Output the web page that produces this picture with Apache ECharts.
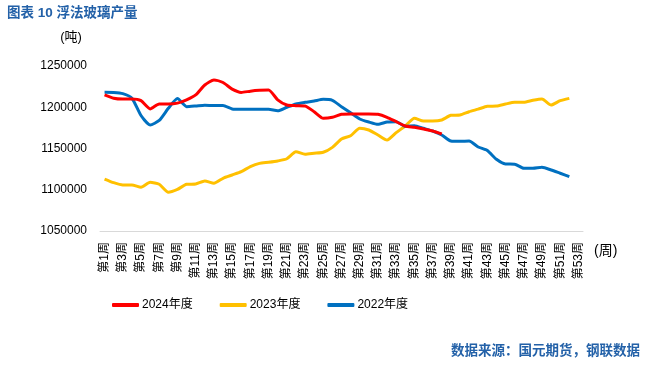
<!DOCTYPE html>
<html>
<head>
<meta charset="utf-8">
<script src="https://cdn.jsdelivr.net/npm/echarts@6/dist/echarts.min.js"></script>
<style>html,body{margin:0;padding:0;background:#fff}#c{width:652px;height:365px}</style>
</head>
<body>
<div id="c"></div>
<script>
var categories = [];
for (var i = 1; i <= 53; i++) categories.push('第' + i + '周');

var yTickMin = 1050000, yTickMax = 1250000, yTickStep = 50000;

var s2024 = [1215000,1211000,1210000,1210000,1208000,1198000,1204000,1204000,1205000,1209000,
             1215000,1227000,1233000,1230000,1222000,1218000,1219500,1220500,1221000,1209000,
             1202700,1201900,1201500,1194600,1186600,1187800,1191400,1191800,1191800,1191800,
             1191400,1187800,1182500,1177300,1175700,1173600,1171200,1167600];

var s2023 = [1113000,1108600,1105800,1105800,1103000,1109000,1106600,1096900,1100400,1106600,
             1107000,1110600,1107800,1113900,1117900,1121900,1128000,1132000,1133300,1134900,
             1137600,1146100,1143000,1144200,1145400,1151400,1161500,1165500,1174500,1172400,
             1166400,1160300,1169200,1177300,1186600,1183300,1183300,1184600,1190200,1190600,
             1194600,1197700,1201100,1201500,1203900,1206000,1206000,1208400,1210000,1202700,
             1208000,1210800];

var s2022 = [1218100,1217900,1216500,1211000,1190000,1178500,1184000,1198700,1210500,1200700,
             1201500,1202500,1202000,1202000,1197900,1197500,1197500,1197500,1197500,1195800,
             1200000,1204000,1206000,1207600,1209600,1208400,1200700,1193400,1185800,1182100,
             1179300,1182100,1182500,1176900,1177700,1174500,1171200,1166400,1159100,1158700,
             1159000,1151800,1147600,1136900,1131200,1131000,1126000,1126000,1127200,1124000,
             1120000,1116000];

var seriesNames = ['2024年度', '2023年度', '2022年度'];
var colors = ['#FF0000', '#FFC000', '#0070C0'];

var FONT = "'Liberation Sans', 'Noto Sans CJK SC', sans-serif";
var chart = echarts.init(document.getElementById('c'));
chart.setOption({
  animation: false,
  textStyle: { fontFamily: FONT },
  title: [
    { text: '图表 10 浮法玻璃产量', left: 2, top: 2,
      textStyle: { fontSize: 13.5, fontWeight: 'bold', color: '#2361A8', fontFamily: FONT } },
    { text: '数据来源：国元期货，钢联数据', right: 7, bottom: 2,
      textStyle: { fontSize: 13.5, fontWeight: 'bold', color: '#2361A8', fontFamily: FONT } }
  ],
  legend: {
    data: seriesNames, left: 107, top: 294, itemWidth: 27, itemHeight: 4, itemGap: 27,
    icon: 'roundRect',
    textStyle: { fontSize: 12, color: '#000', fontFamily: FONT, padding: [0,0,0,-2] }
  },
  grid: { left: 100, right: 69, top: 66, bottom: 134, containLabel: false },
  xAxis: {
    type: 'category', data: categories, boundaryGap: true,
    name: '(周)', nameLocation: 'end', nameGap: 11,
    nameTextStyle: { fontSize: 14, color: '#000', verticalAlign: 'top', padding: [13, 0, 0, 0] },
    axisLine: { lineStyle: { color: '#D9D9D9', width: 1 } },
    axisTick: { show: false },
    axisLabel: { interval: 1, rotate: 90, fontSize: 12, color: '#000', margin: 11 }
  },
  yAxis: {
    type: 'value', min: yTickMin, max: yTickMax, interval: yTickStep,
    name: '(吨)', nameLocation: 'end', nameGap: 22,
    nameTextStyle: { fontSize: 13, color: '#000', padding: [0, 58, 0, 0] },
    axisLine: { show: false }, axisTick: { show: false }, splitLine: { show: false },
    axisLabel: { fontSize: 12, color: '#000', margin: 13, formatter: function (v) { return String(v); } }
  },
  series: [
    { name: seriesNames[0], type: 'line', data: s2024, smooth: 0.2, showSymbol: false,
      lineStyle: { width: 3, color: colors[0] }, itemStyle: { color: colors[0] }, z: 4 },
    { name: seriesNames[1], type: 'line', data: s2023, smooth: 0.2, showSymbol: false,
      lineStyle: { width: 3, color: colors[1] }, itemStyle: { color: colors[1] }, z: 2 },
    { name: seriesNames[2], type: 'line', data: s2022, smooth: 0.2, showSymbol: false,
      lineStyle: { width: 3, color: colors[2] }, itemStyle: { color: colors[2] }, z: 3 }
  ]
});
</script>
</body>
</html>
